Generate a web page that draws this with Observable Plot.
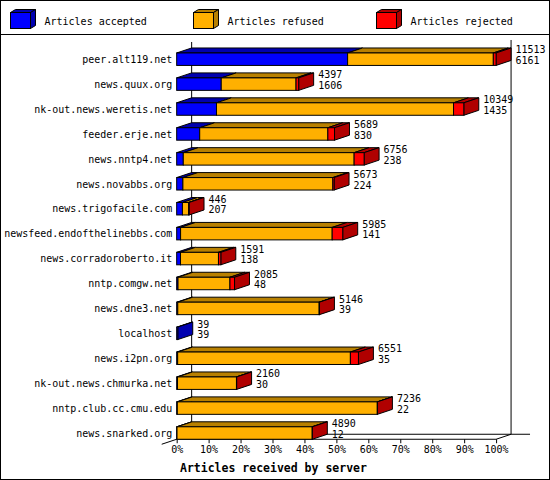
<!DOCTYPE html>
<html>
<head>
<meta charset="utf-8">
<script src="https://cdn.jsdelivr.net/npm/d3@7"></script>
<script src="https://cdn.jsdelivr.net/npm/@observablehq/plot@0.6"></script>
<style>
  body { margin: 0; background: #fff; }
  #wrap { position: relative; width: 550px; height: 480px; box-sizing: border-box; border: 1px solid #000; overflow: hidden; background: #fff; }
  #legend { position: absolute; left: -1px; top: -1px; }
  #chart { position: absolute; left: -1px; top: 34px; }
  #caption { position: absolute; left: 179px; top: 460px; font: bold 11.5px "DejaVu Sans Mono", monospace; line-height: 14px; color: #000; white-space: nowrap; }
</style>
</head>
<body>
<div id="wrap">
  <div id="legend"></div>
  <div id="chart"></div>
  <div id="caption">Articles received by server</div>
</div>
<script>
// ---- data ----
const servers = ["peer.alt119.net","news.quux.org","nk-out.news.weretis.net","feeder.erje.net","news.nntp4.net","news.novabbs.org","news.trigofacile.com","newsfeed.endofthelinebbs.com","news.corradoroberto.it","nntp.comgw.net","news.dne3.net","localhost","news.i2pn.org","nk-out.news.chmurka.net","nntp.club.cc.cmu.edu","news.snarked.org"];
const totals   = [11513, 4397, 10349, 5689, 6756, 5673, 446, 5985, 1591, 2085, 5146, 39, 6551, 2160, 7236, 4890];
const accepted = [6161, 1606, 1435, 830, 238, 224, 207, 141, 138, 48, 39, 39, 35, 30, 22, 12];
const refused  = [5252, 2696, 8544, 4619, 6158, 5404, 224, 5464, 1368, 1872, 5097, 0, 6226, 2125, 7209, 4873];
const rejected = [100, 95, 370, 240, 360, 45, 15, 380, 85, 165, 10, 0, 290, 5, 5, 5];
const seriesNames = ["Articles accepted", "Articles refused", "Articles rejected"];
const xTicks = [0, 10, 20, 30, 40, 50, 60, 70, 80, 90, 100];

// ---- styles ----
const frontColors = ["#0000ff", "#ffb000", "#ff0000"];
const darkColors  = ["#0000b0", "#b88000", "#b00000"];
const DX = 15, DY = -5;
const FONT = '"DejaVu Sans Mono", monospace';

const maxT = d3.max(totals);
const seriesVals = [accepted, refused, rejected];
const segs = [];
const rows = [];
servers.forEach((s, i) => {
  let c = 0, last = null;
  seriesVals.forEach((arr, k) => {
    const v = arr[i];
    if (v > 0) {
      const seg = {server: s, series: seriesNames[k], k, x1: c / maxT * 100, x2: (c + v) / maxT * 100};
      segs.push(seg);
      last = seg;
    }
    c += v;
  });
  rows.push({server: s, pct: totals[i] / maxT * 100, total: String(totals[i]), acc: String(accepted[i]), last});
});

// ---- legend ----
const leg = d3.select("#legend").append("svg").attr("width", 550).attr("height", 36);
leg.append("line").attr("x1", 0).attr("x2", 550).attr("y1", 34.5).attr("y2", 34.5).attr("stroke", "#000");
seriesNames.forEach((name, k) => {
  const x0 = 10.5 + k * 183, y0 = 12.5, w = 20, h = 16, dx = 5, dy = -3;
  const g = leg.append("g").attr("stroke", "#000").attr("stroke-width", 1);
  g.append("polygon").attr("points", [[x0, y0], [x0 + w, y0], [x0 + w + dx, y0 + dy], [x0 + dx, y0 + dy]].join(" ")).attr("fill", darkColors[k]);
  g.append("polygon").attr("points", [[x0 + w, y0], [x0 + w + dx, y0 + dy], [x0 + w + dx, y0 + h + dy], [x0 + w, y0 + h]].join(" ")).attr("fill", darkColors[k]);
  g.append("rect").attr("x", x0).attr("y", y0).attr("width", w).attr("height", h).attr("fill", frontColors[k]);
  leg.append("text").attr("x", x0 + 34).attr("y", 21.5).attr("dy", "0.35em")
    .attr("font-family", FONT).attr("font-size", 10).text(name);
});

// ---- custom 3D pieces (use Plot's scales) ----
function frame3d(index, scales, values, dims) {
  const {x} = scales;
  const x0 = x(0), x1 = x(100), yb = dims.height - dims.marginBottom;
  const g = d3.create("svg:g").attr("stroke", "#000").attr("stroke-width", 1).attr("fill", "none");
  const L = (a, b, c, d) => g.append("line").attr("x1", a).attr("y1", b).attr("x2", c).attr("y2", d);
  L(x0 + DX, dims.marginTop - 11, x0 + DX, yb + DY);
  L(x1 + DX, dims.marginTop - 13, x1 + DX, yb + DY);
  L(x0 + DX, yb + DY, x1 + DX + 19, yb + DY);
  L(x0, yb, x1, yb);
  L(x1, yb, x1 + DX, yb + DY);
  L(x0 - DX, yb + 5, x0, yb);
  return g.node();
}

function bars3d(index, scales) {
  const {x, y} = scales;
  const bw = typeof y.bandwidth === "function" ? y.bandwidth() : y.bandwidth;
  const g = d3.create("svg:g").attr("stroke", "#000").attr("stroke-width", 1);
  for (const d of segs) {
    const xa = x(d.x1), xb = x(d.x2), yt = y(d.server);
    g.append("polygon")
      .attr("points", [[xa, yt], [xb, yt], [xb + DX, yt + DY], [xa + DX, yt + DY]].join(" "))
      .attr("fill", darkColors[d.k]);
  }
  for (const r of rows) {
    if (!r.last) continue;
    const xe = x(r.last.x2), yt = y(r.server);
    g.append("polygon")
      .attr("points", [[xe, yt], [xe + DX, yt + DY], [xe + DX, yt + bw + DY], [xe, yt + bw]].join(" "))
      .attr("fill", darkColors[r.last.k]);
  }
  return g.node();
}

const chart = Plot.plot({
  width: 550,
  height: 425,
  marginLeft: 177,
  marginRight: 53,
  marginTop: 18,
  marginBottom: 20,
  style: {fontFamily: FONT, fontSize: "10px", background: "transparent", color: "#000", overflow: "visible"},
  x: {domain: [0, 100], ticks: xTicks, tickFormat: d => d + "%", tickSize: 4, tickPadding: 2, label: null},
  y: {domain: servers, type: "band", paddingInner: 0.5, paddingOuter: 0, round: false, tickSize: 0, tickPadding: 5, label: null},
  color: {domain: seriesNames, range: frontColors},
  marks: [
    frame3d,
    bars3d,
    Plot.barX(segs, {x1: "x1", x2: "x2", y: "server", fill: "series", stroke: "#000", strokeWidth: 1}),
    Plot.text(rows, {x: "pct", y: "server", text: "total", dx: 19, dy: -9.5, textAnchor: "start", fill: "#000", fontSize: 10}),
    Plot.text(rows, {x: "pct", y: "server", text: "acc", dx: 19, dy: 1, textAnchor: "start", fill: "#000", fontSize: 10})
  ]
});
document.getElementById("chart").appendChild(chart);
</script>
</body>
</html>
